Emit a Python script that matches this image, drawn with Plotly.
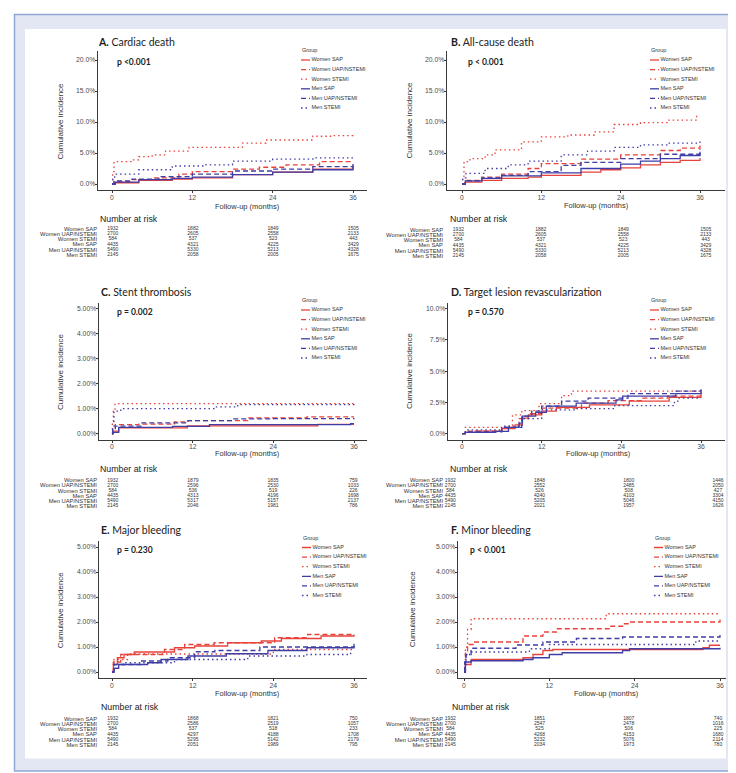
################################################################################
# Libraries
################################################################################
import plotly.graph_objects as go

################################################################################
# Data (cumulative incidence in %, follow-up in months)
################################################################################
groups = ["Women SAP", "Women UAP/NSTEMI", "Women STEMI",
          "Men SAP", "Men UAP/NSTEMI", "Men STEMI"]
risk_months = [0, 12, 24, 36]

# A. Cardiac death
cardiac_curves = {
    "Women SAP": ([0, 0.5, 4, 9, 12, 18, 24, 30, 36], [0, 0.2, 0.6, 0.8, 1.0, 1.5, 1.9, 2.4, 3.0]),
    "Women UAP/NSTEMI": ([0, 0.3, 3, 6, 10, 12, 18, 22, 26, 31, 36], [0, 0.4, 0.7, 1.0, 1.6, 2.0, 2.4, 2.7, 3.1, 3.6, 3.7]),
    "Women STEMI": ([0, 0.1, 0.3, 3, 4, 6, 8, 11.5, 18.5, 19.5, 23, 30, 33, 36], [0, 2.0, 3.6, 3.9, 4.4, 4.7, 5.3, 5.9, 5.9, 6.6, 7.1, 7.7, 7.8, 8.1]),
    "Men SAP": ([0, 0.5, 4, 9, 12, 18, 24, 30, 36], [0, 0.3, 0.7, 0.9, 1.1, 1.5, 1.9, 2.3, 2.8]),
    "Men UAP/NSTEMI": ([0, 0.3, 3, 7, 12, 18, 24, 30, 36], [0, 0.5, 0.8, 1.2, 1.6, 2.1, 2.4, 2.8, 3.3]),
    "Men STEMI": ([0, 0.1, 0.4, 4, 9, 14, 18, 24, 30, 36], [0, 1.0, 1.6, 2.3, 2.9, 3.1, 3.7, 4.0, 4.2, 4.3]),
}
cardiac_risk = [[1932, 1882, 1849, 1505], [2700, 2605, 2558, 2133], [584, 537, 523, 443],
                [4435, 4321, 4225, 3429], [5490, 5330, 5213, 4328], [2145, 2058, 2005, 1675]]

# B. All-cause death
allcause_curves = {
    "Women SAP": ([0, 0.5, 3, 6, 10, 12, 18, 21, 24, 27, 30, 33, 36], [0, 0.3, 0.6, 0.9, 1.1, 1.4, 1.9, 2.3, 2.6, 3.1, 3.5, 3.8, 4.2]),
    "Women UAP/NSTEMI": ([0, 0.5, 3, 6, 10, 12, 18, 24, 30, 33, 36], [0, 0.6, 1.1, 1.6, 2.5, 3.3, 4.0, 4.7, 5.4, 5.8, 6.2]),
    "Women STEMI": ([0, 0.1, 0.3, 1.2, 3.5, 5, 9, 12, 16, 20, 23, 27, 31, 35.5], [0, 1.0, 3.6, 4.1, 4.7, 5.5, 6.8, 7.6, 7.9, 8.4, 9.6, 9.9, 10.3, 11.0]),
    "Men SAP": ([0, 0.5, 3, 6, 12, 18, 24, 27, 30, 33, 36], [0, 0.5, 0.9, 1.3, 1.8, 2.5, 3.2, 3.7, 4.1, 4.6, 5.2]),
    "Men UAP/NSTEMI": ([0, 0.5, 3, 6, 10, 15, 18, 24, 30, 36], [0, 0.5, 1.0, 1.4, 2.0, 3.0, 3.5, 4.1, 4.8, 5.6]),
    "Men STEMI": ([0, 0.1, 0.6, 3.5, 7, 10, 15, 19, 23, 27, 31, 36], [0, 1.0, 1.7, 2.5, 3.1, 3.7, 4.7, 5.3, 5.9, 6.3, 6.6, 7.0]),
}
allcause_risk = cardiac_risk

# C. Stent thrombosis
stent_curves = {
    "Women SAP": ([0, 0.2, 1.0, 11.2, 30.6, 36], [0, 0.1, 0.23, 0.31, 0.37, 0.37]),
    "Women UAP/NSTEMI": ([0, 0.1, 0.5, 4, 9.3, 11.3, 20.2, 29, 36], [0, 0.2, 0.36, 0.38, 0.47, 0.52, 0.63, 0.67, 0.67]),
    "Women STEMI": ([0, 0.05, 0.2, 0.45, 36], [0, 0.5, 0.9, 1.2, 1.2]),
    "Men SAP": ([0, 0.2, 1.0, 9, 14.5, 35.5, 36], [0, 0.05, 0.25, 0.29, 0.36, 0.4, 0.4]),
    "Men UAP/NSTEMI": ([0, 0.1, 0.5, 4.3, 11.3, 18, 24, 36], [0, 0.15, 0.3, 0.43, 0.52, 0.59, 0.6, 0.62]),
    "Men STEMI": ([0, 0.1, 0.3, 1.3, 15.2, 18.7, 36], [0, 0.3, 0.9, 1.0, 1.07, 1.16, 1.18]),
}
stent_risk = [[1932, 1879, 1835, 759], [2700, 2596, 2530, 1033], [584, 536, 519, 226],
              [4435, 4313, 4196, 1698], [5490, 5317, 5157, 2137], [2145, 2046, 1981, 786]]

# D. Target lesion revascularization
tlr_curves = {
    "Women SAP": ([0, 0.5, 2, 6, 8, 9.1, 10, 12, 14.2, 19.2, 25.2, 31.2, 36], [0, 0.1, 0.2, 0.4, 0.7, 1.25, 1.5, 1.8, 2.1, 2.3, 2.6, 2.9, 3.25]),
    "Women UAP/NSTEMI": ([0, 0.5, 6, 8.6, 10, 12, 18, 22, 27, 31, 36], [0, 0.2, 0.5, 1.2, 1.6, 2.05, 2.45, 2.65, 2.85, 3.0, 3.5]),
    "Women STEMI": ([0, 0.5, 6.6, 7.6, 9, 11.6, 15, 16.5, 36], [0, 0.5, 0.6, 1.5, 1.85, 2.4, 3.05, 3.4, 3.45]),
    "Men SAP": ([0, 0.5, 5, 7, 8.6, 9.1, 11.1, 12.7, 17.2, 23.2, 24.2, 32.2, 36], [0, 0.1, 0.19, 0.5, 0.85, 1.4, 1.7, 2.2, 2.45, 2.7, 3.0, 3.2, 3.35]),
    "Men UAP/NSTEMI": ([0, 0.5, 6, 9, 10.5, 12, 15, 19, 25, 32, 36], [0, 0.15, 0.5, 1.4, 1.8, 2.2, 2.6, 2.85, 3.2, 3.4, 3.55]),
    "Men STEMI": ([0, 0.5, 6, 9, 12, 17, 23, 32, 32.7, 36], [0, 0.3, 0.6, 1.2, 1.9, 2.0, 2.25, 2.6, 2.85, 2.85]),
}
tlr_risk = [[1932, 1848, 1800, 1446], [2700, 2552, 2485, 2050], [584, 526, 508, 427],
            [4435, 4240, 4103, 3304], [5490, 5205, 5046, 4150], [2145, 2021, 1957, 1626]]

# E. Major bleeding
major_curves = {
    "Women SAP": ([0, 0.2, 0.8, 1.8, 3.3, 9.3, 12.3, 17.2, 22.2, 25.2, 31.1, 36], [0, 0.3, 0.57, 0.7, 0.8, 0.97, 1.04, 1.17, 1.24, 1.34, 1.44, 1.5]),
    "Women UAP/NSTEMI": ([0, 0.2, 1.3, 7.8, 10.8, 15.2, 24.2, 29.1, 36], [0, 0.4, 0.7, 0.9, 1.1, 1.17, 1.37, 1.5, 1.5]),
    "Women STEMI": ([0, 0.3, 2.3, 24, 36], [0, 0.5, 0.72, 0.9, 0.9]),
    "Men SAP": ([0, 0.3, 1, 5.3, 7.3, 11.3, 17, 23.2, 29, 36], [0, 0.15, 0.3, 0.37, 0.5, 0.64, 0.73, 0.86, 0.97, 1.13]),
    "Men UAP/NSTEMI": ([0, 0.3, 4.3, 8.3, 12.3, 15.3, 22, 36], [0, 0.3, 0.44, 0.57, 0.81, 0.86, 1.0, 1.04]),
    "Men STEMI": ([0, 0.3, 1.8, 9.3, 20.2, 29, 35.5], [0, 0.3, 0.37, 0.5, 0.64, 0.7, 0.9]),
}
major_risk = [[1932, 1868, 1821, 750], [2700, 2586, 2519, 1057], [584, 537, 518, 233],
              [4435, 4297, 4188, 1708], [5490, 5295, 5142, 2179], [2145, 2051, 1989, 795]]

# F. Minor bleeding
minor_curves = {
    "Women SAP": ([0, 0.2, 1, 8.3, 9.7, 11.1, 12.5, 33.6, 34.5, 36], [0, 0.3, 0.5, 0.57, 0.7, 0.86, 0.9, 0.97, 1.07, 1.07]),
    "Women UAP/NSTEMI": ([0, 0.2, 0.5, 1.3, 8.3, 11.1, 13, 20.5, 22.3, 23.3, 36], [0, 0.8, 1.1, 1.2, 1.44, 1.6, 1.73, 1.83, 1.93, 2.0, 2.1]),
    "Women STEMI": ([0, 0.2, 0.5, 1, 20, 36], [0, 1.0, 1.7, 2.13, 2.33, 2.33]),
    "Men SAP": ([0, 0.2, 1, 8.3, 9.7, 12, 13.8, 22.3, 23.3, 34, 36], [0, 0.4, 0.45, 0.5, 0.57, 0.7, 0.77, 0.86, 0.93, 0.93, 0.97]),
    "Men UAP/NSTEMI": ([0, 0.1, 0.3, 1, 7.3, 11.1, 15.8, 22.3, 36], [0, 0.4, 0.7, 0.95, 1.08, 1.2, 1.34, 1.4, 1.5]),
    "Men STEMI": ([0, 0.1, 0.3, 1, 9.2, 12, 32.6, 36], [0, 0.3, 0.7, 0.8, 0.93, 1.1, 1.24, 1.24]),
}
minor_risk = [[1932, 1851, 1807, 740], [2700, 2547, 2478, 1016], [584, 525, 506, 225],
              [4435, 4268, 4153, 1680], [5490, 5232, 5076, 2114], [2145, 2034, 1973, 780]]

################################################################################
# Style / layout config
################################################################################
W, H = 736, 773
RED = "#e8433b"
BLUE = "#3e3ea6"
AXIS = "#3a3a3a"
TICKTXT = "#4d4d4d"
SANS = "Liberation Sans, Arial, sans-serif"
TITLEFONT = "Lato, Open Sans, sans-serif"
groupColor = {g: (RED if g.startswith("Women") else BLUE) for g in groups}
groupDash = {g: ("solid" if g.endswith("SAP") else ("5px,3px" if "UAP" in g else "1.5px,3px")) for g in groups}

# pixel geometry of every panel
panels = [
    dict(letter="A.", name="Cardiac death", p="p <0.001", curves=cardiac_curves, risk=cardiac_risk,
         ax=(90, 359, 104, 345), ay=(43, 182, 176, 52, 20), yt=[0, 5, 10, 15, 20], dec=1,
         title=(88, 34), pv=(107, 54), ytx=52, xtl=(239, 198), leg=(292, 52),
         nt=(90, 211), nar=(104.7, 345.3, 88, 221)),
    dict(letter="B.", name="All-cause death", p="p < 0.001", curves=allcause_curves, risk=allcause_risk,
         ax=(439, 717, 454, 692), ay=(43, 182, 176, 52, 20), yt=[0, 5, 10, 15, 20], dec=1,
         title=(441, 34), pv=(458, 54), ytx=401, xtl=(588, 197), leg=(641, 52),
         nt=(440, 211.5), nar=(450.4, 697.7, 434, 222)),
    dict(letter="C.", name="Stent thrombosis", p="p = 0.002", curves=stent_curves, risk=stent_risk,
         ax=(91, 359, 104, 346), ay=(294.5, 431.7, 425.7, 300.7, 5), yt=[0, 1, 2, 3, 4, 5], dec=2,
         title=(91, 284), pv=(107, 304), ytx=52, xtl=(239, 445), leg=(292, 302),
         nt=(90, 461), nar=(104.7, 345.3, 88, 472.3)),
    dict(letter="D.", name="Target lesion revascularization", p="p = 0.570", curves=tlr_curves, risk=tlr_risk,
         ax=(440, 717, 454, 693), ay=(294.5, 431.7, 425.7, 300.7, 10), yt=[0, 2.5, 5, 7.5, 10], dec=1,
         title=(441, 284), pv=(458, 304), ytx=401, xtl=(590, 445), leg=(641, 302),
         nt=(440, 460.5), nar=(442.3, 710, 434, 472.3)),
    dict(letter="E.", name="Major bleeding", p="p = 0.230", curves=major_curves, risk=major_risk,
         ax=(91, 359, 104, 346), ay=(532.5, 670, 664, 539, 5), yt=[0, 1, 2, 3, 4, 5], dec=2,
         title=(91, 521.7), pv=(107, 541.7), ytx=52, xtl=(239, 685.5), leg=(293, 539.5),
         nt=(90.5, 699), nar=(104.7, 345.3, 88, 711)),
    dict(letter="F.", name="Minor bleeding", p="p < 0.001", curves=minor_curves, risk=minor_risk,
         ax=(450, 718, 456, 712), ay=(532.5, 670, 664, 539, 5), yt=[0, 1, 2, 3, 4, 5], dec=2,
         title=(441, 521.7), pv=(460, 541.7), ytx=404, xtl=(598, 685.5), leg=(645, 539.5),
         nt=(442, 699), nar=(442.3, 710, 434, 711)),
]
legStep = 9.6
rowStep = 5.12


def linRange(lo, hi, p0, v0, p1, v1):
    s = (v1 - v0) / (p1 - p0)
    return [v0 + (lo - p0) * s, v0 + (hi - p0) * s]


def xDom(a, b):
    return [max(0, a / W), min(1, b / W)]


def yDom(top, bottom):
    return [1 - bottom / H, 1 - top / H]


def axName(kind, n):
    return kind + ("axis" if n == 1 else "axis%d" % n)


def axRef(kind, n):
    return kind + ("" if n == 1 else str(n))


fig = go.Figure()
layout = {}
annotations = []

for i, pan in enumerate(panels):
    nPlot, nLeg, nTab = 3 * i + 1, 3 * i + 2, 3 * i + 3
    # ---------------- main KM plot ----------------
    x0, x1, p0, p36 = pan["ax"]
    ytop, ybot, py0, pymax, vmax = pan["ay"]
    layout[axName("x", nPlot)] = dict(
        domain=xDom(x0, x1), range=linRange(x0, x1, p0, 0, p36, 36), anchor=axRef("y", nPlot),
        tickvals=risk_months, showline=True, linecolor=AXIS, linewidth=0.8, ticks="outside",
        ticklen=2.5, tickwidth=0.8, tickcolor=AXIS, ticklabelstandoff=-2,
        tickfont=dict(family=SANS, size=6.8, color=TICKTXT), showgrid=False, zeroline=False)
    layout[axName("y", nPlot)] = dict(
        domain=yDom(ytop, ybot), range=linRange(ybot, ytop, py0, 0, pymax, vmax), anchor=axRef("x", nPlot),
        tickvals=pan["yt"], ticktext=["%.*f%%" % (pan["dec"], v) for v in pan["yt"]],
        showline=True, linecolor=AXIS, ticklabelstandoff=-2,
        linewidth=0.8, ticks="outside", ticklen=2.5, tickwidth=0.8, tickcolor=AXIS,
        tickfont=dict(family=SANS, size=6.8, color=TICKTXT), showgrid=False, zeroline=False)
    for g in groups:
        tt, vv = pan["curves"][g]
        fig.add_trace(go.Scatter(x=tt, y=vv, mode="lines", line_shape="hv", name=g, showlegend=False,
                                 line=dict(color=groupColor[g], width=1.3, dash=groupDash[g]),
                                 xaxis=axRef("x", nPlot), yaxis=axRef("y", nPlot)))
    # ---------------- legend drawn on its own small axes (1 unit = 10 px) ----------------
    lx, ly = pan["leg"]
    lRight = min(lx + 72, W - 2)
    layout[axName("x", nLeg)] = dict(domain=xDom(lx, lRight), range=[0, (lRight - lx) / 10.0],
                                     visible=False, anchor=axRef("y", nLeg))
    layout[axName("y", nLeg)] = dict(domain=yDom(ly - 5, ly + 5 * legStep + 5),
                                     range=[5 + 5 / legStep, -5 / legStep], visible=False,
                                     anchor=axRef("x", nLeg))
    for k, g in enumerate(groups):
        fig.add_trace(go.Scatter(x=[0.1, 1.0], y=[k, k], mode="lines", showlegend=False, cliponaxis=False,
                                 line=dict(color=groupColor[g], width=1.3, dash=groupDash[g]),
                                 xaxis=axRef("x", nLeg), yaxis=axRef("y", nLeg)))
    fig.add_trace(go.Scatter(x=[1.15] * len(groups), y=list(range(len(groups))), mode="text",
                             text=groups, textposition="middle right", showlegend=False,
                             cliponaxis=False, textfont=dict(family=SANS, size=5.5, color="#333"),
                             xaxis=axRef("x", nLeg), yaxis=axRef("y", nLeg)))
    annotations.append(dict(text="Group", x=lx / W, y=1 - (ly - 10) / H, xref="paper", yref="paper",
                            xanchor="left", yanchor="middle", showarrow=False,
                            font=dict(family=SANS, size=5.5, color="#333")))
    # ---------------- number at risk table ----------------
    n0, n36, labRight, r0 = pan["nar"]
    tLeft = labRight + 2
    tRight = min(n36 + 14, W - 2)
    layout[axName("x", nTab)] = dict(domain=xDom(tLeft, tRight), range=linRange(tLeft, tRight, n0, 0, n36, 36),
                                     visible=False, anchor=axRef("y", nTab))
    layout[axName("y", nTab)] = dict(domain=yDom(r0 - 3, r0 + 5 * rowStep + 3),
                                     range=[5 + 3 / rowStep, -3 / rowStep], anchor=axRef("x", nTab),
                                     tickvals=list(range(len(groups))), ticktext=groups, ticks="",
                                     showline=False, showgrid=False, zeroline=False,
                                     tickfont=dict(family=SANS, size=5.8, color="#333"))
    tx, ty, tt = [], [], []
    for k, g in enumerate(groups):
        for m, month in enumerate(risk_months):
            tx.append(month)
            ty.append(k)
            tt.append(str(pan["risk"][k][m]))
    fig.add_trace(go.Scatter(x=tx, y=ty, text=tt, mode="text", textposition="middle center",
                             showlegend=False, cliponaxis=False,
                             textfont=dict(family=SANS, size=5, color="#333"),
                             xaxis=axRef("x", nTab), yaxis=axRef("y", nTab)))
    # ---------------- texts ----------------
    tX, tY = pan["title"]
    annotations.append(dict(text="<b>%s</b> %s" % (pan["letter"], pan["name"]), x=tX / W, y=1 - tY / H,
                            xref="paper", yref="paper", xanchor="left", yanchor="middle", showarrow=False,
                            font=dict(family=TITLEFONT, size=10.5, color="#222")))
    pX, pY = pan["pv"]
    annotations.append(dict(text="<b>%s</b>" % pan["p"], x=pX / W, y=1 - pY / H, xref="paper", yref="paper",
                            xanchor="left", yanchor="middle", showarrow=False,
                            font=dict(family=TITLEFONT, size=8.5, color="#222")))
    annotations.append(dict(text="Cumulative incidence", x=pan["ytx"] / W, y=1 - (ytop + ybot) / 2 / H,
                            xref="paper", yref="paper", xanchor="center", yanchor="middle", textangle=-90,
                            showarrow=False, font=dict(family=SANS, size=8, color="#333")))
    xtX, xtY = pan["xtl"]
    annotations.append(dict(text="Follow-up (months)", x=xtX / W, y=1 - xtY / H, xref="paper", yref="paper",
                            xanchor="center", yanchor="middle", showarrow=False,
                            font=dict(family=SANS, size=7.5, color="#333")))
    ntX, ntY = pan["nt"]
    annotations.append(dict(text="Number at risk", x=ntX / W, y=1 - ntY / H, xref="paper", yref="paper",
                            xanchor="left", yanchor="middle", showarrow=False,
                            font=dict(family=SANS, size=8.8, color="#222")))

# frame: lavender band with blue border, white inner panel
shapes = [
    dict(type="rect", xref="paper", yref="paper", x0=6.5 / W, x1=729 / W, y0=1 - 763 / H, y1=1 - 6.5 / H,
         fillcolor="#e3e7f3", line=dict(color="#8ea7d4", width=1.5), layer="below"),
    dict(type="rect", xref="paper", yref="paper", x0=17 / W, x1=718 / W, y0=1 - 750.5 / H, y1=1 - 21 / H,
         fillcolor="white", line=dict(width=0), layer="below"),
]

fig.update_layout(width=W, height=H, margin=dict(l=0, r=0, t=0, b=0), paper_bgcolor="white",
                  plot_bgcolor="rgba(0,0,0,0)", showlegend=False, annotations=annotations, shapes=shapes,
                  **layout)
fig.write_html("out.html")
